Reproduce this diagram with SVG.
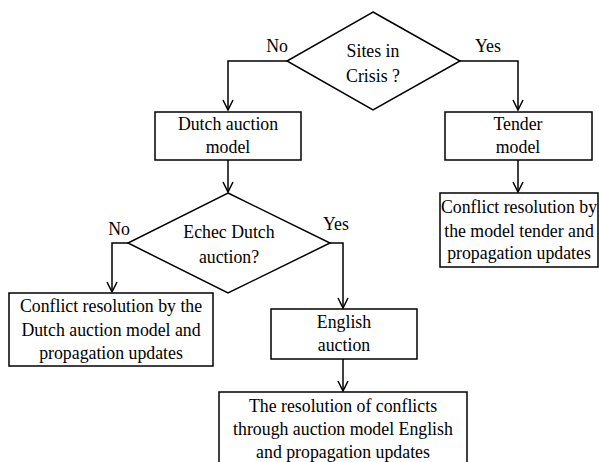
<svg xmlns="http://www.w3.org/2000/svg" width="599" height="462" viewBox="0 0 599 462">
  <defs>
    <marker id="arrow" viewBox="0 0 12 12" refX="11" refY="6" markerWidth="12" markerHeight="12" markerUnits="userSpaceOnUse" orient="auto">
      <path d="M1,1 L11,6 L1,11" fill="none" stroke="#000" stroke-width="1.5"/>
    </marker>
  </defs>
  <style>
    .shape { fill: #fff; stroke: #000; stroke-width: 1.5; }
    .link { fill: none; stroke: #000; stroke-width: 1.5; marker-end: url(#arrow); }
    .lbl { font-family: "Liberation Serif", "Times New Roman", "DejaVu Serif", serif; font-size: 17.8px; fill: #000; text-anchor: middle; }
  </style>
  <rect width="599" height="462" fill="#fff"/>

  <g class="lbl">
  <!-- connectors and branch labels -->
  <g id="connectors">
    <path class="link" d="M287,61 H228 V110"/>
    <path class="link" d="M460,61 H518 V110"/>
    <path class="link" d="M228,160 V192"/>
    <path class="link" d="M518,160 V192"/>
    <path class="link" d="M128,243 H112 V292"/>
    <path class="link" d="M330,243 H343 V308"/>
    <path class="link" d="M343,359 V391"/>
    <text x="277" y="52">No</text>
    <text x="488" y="52">Yes</text>
    <text x="119" y="235">No</text>
    <text x="336" y="230">Yes</text>
  </g>

  <g id="sites-in-crisis">
    <polygon class="shape" points="373,12 460,61 373,110 287,61"/>
    <text x="373" y="57">Sites in</text>
    <text x="373" y="82">Crisis ?</text>
  </g>

  <g id="dutch-auction-model">
    <rect class="shape" x="155" y="112" width="146" height="48"/>
    <text x="228" y="130">Dutch auction</text>
    <text x="228" y="153">model</text>
  </g>

  <g id="tender-model">
    <rect class="shape" x="445" y="112" width="147" height="48"/>
    <text x="518" y="130">Tender</text>
    <text x="518" y="153">model</text>
  </g>

  <g id="tender-resolution">
    <rect class="shape" x="440" y="193" width="158" height="74"/>
    <text x="519" y="213">Conflict resolution by</text>
    <text x="519" y="237">the model tender and</text>
    <text x="519" y="259">propagation updates</text>
  </g>

  <g id="echec-dutch-auction">
    <polygon class="shape" points="228,193 330,243 228,293 128,243"/>
    <text x="229" y="238">Echec Dutch</text>
    <text x="229" y="263">auction?</text>
  </g>

  <g id="dutch-resolution">
    <rect class="shape" x="9" y="293" width="204" height="73"/>
    <text x="111" y="312">Conflict resolution by the</text>
    <text x="111" y="336">Dutch auction model and</text>
    <text x="111" y="359">propagation updates</text>
  </g>

  <g id="english-auction">
    <rect class="shape" x="271" y="309" width="146" height="50"/>
    <text x="344" y="328">English</text>
    <text x="344" y="351">auction</text>
  </g>

  <g id="english-resolution">
    <rect class="shape" x="219" y="392" width="248" height="80"/>
    <text x="343" y="412">The resolution of conflicts</text>
    <text x="343" y="435">through auction model English</text>
    <text x="343" y="458">and propagation updates</text>
  </g>
  </g>
</svg>
